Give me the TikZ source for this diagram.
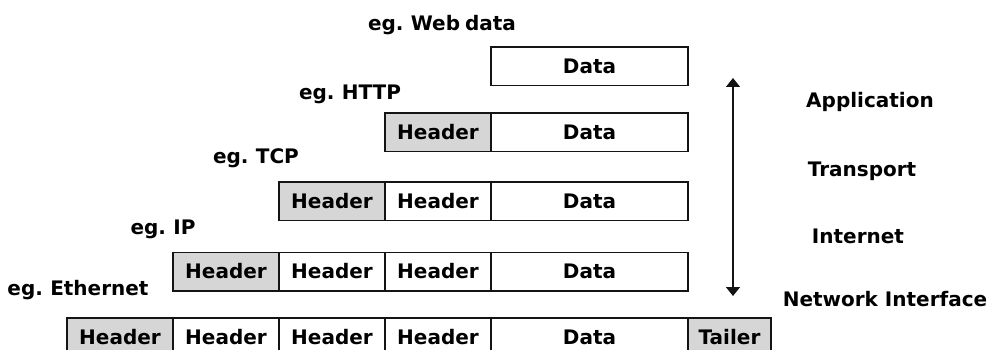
\documentclass[tikz,border=0pt]{standalone}
\usepackage{fontspec}
\setmainfont{DejaVu Sans}
\usetikzlibrary{arrows.meta}
\definecolor{cellgray}{RGB}{214,214,214}
\definecolor{edgeblack}{RGB}{20,20,20}
\newdimen\egspace
\begin{document}
\begin{tikzpicture}[x=1pt,y=-1pt,
  font=\fontsize{20}{23}\selectfont\bfseries,
  cell/.style={draw=edgeblack, line width=1.5pt, fill=white, inner sep=0pt,
               minimum height=38.5pt},
  hdr/.style={cell, minimum width=106pt},
  grayhdr/.style={hdr, fill=cellgray},
  datacell/.style={cell, minimum width=197pt},
  tailcell/.style={cell, fill=cellgray, minimum width=83pt},
  eglabel/.style={anchor=base, inner sep=0pt,
                  execute at begin node={\spaceskip=5pt\relax}},
  layer/.style={anchor=base, inner sep=0pt}]
  \useasboundingbox (0,0) rectangle (988,350);
  \clip (0,0) rectangle (988,350);

  % example protocol captions
  \node[eglabel] (egweb)  at (442,31)  {eg. Web data};
  \node[eglabel] (eghttp) at (350,100) {eg. HTTP};
  \node[eglabel] (egtcp)  at (256,164) {eg. TCP};
  \node[eglabel] (egip)   at (163,234) {eg. IP};
  \node[eglabel] (egeth)  at (78,295)  {eg. Ethernet};

  % application data
  \node[datacell] (d1) at (589.5,66.5) {Data};

  % HTTP
  \node[grayhdr]  (h2a) at (438,132.5) {Header};
  \node[datacell] (d2)  at (589.5,132.5) {Data};

  % TCP
  \node[grayhdr]  (h3a) at (332,201) {Header};
  \node[hdr]      (h3b) at (438,201) {Header};
  \node[datacell] (d3)  at (589.5,201) {Data};

  % IP
  \node[grayhdr]  (h4a) at (226,271.5) {Header};
  \node[hdr]      (h4b) at (332,271.5) {Header};
  \node[hdr]      (h4c) at (438,271.5) {Header};
  \node[datacell] (d4)  at (589.5,271.5) {Data};

  % Ethernet frame
  \node[grayhdr]  (h5a) at (120,337) {Header};
  \node[hdr]      (h5b) at (226,337) {Header};
  \node[hdr]      (h5c) at (332,337) {Header};
  \node[hdr]      (h5d) at (438,337) {Header};
  \node[datacell] (d5)  at (589.5,337) {Data};
  \node[tailcell] (t5)  at (729.5,337) {Tailer};

  % layer arrow
  \coordinate (atop) at (733,78);
  \coordinate (abot) at (733,296);
  \draw[edgeblack, line width=1.5pt,
        {Triangle[width=14pt,length=9pt]}-{Triangle[width=14pt,length=9pt]}]
        (atop) -- (abot);

  % layer names
  \node[layer] (lapp) at (870,108) {Application};
  \node[layer] (ltra) at (862,176) {Transport};
  \node[layer] (lint) at (858,243) {Internet};
  \node[layer] (lnet) at (885,306) {Network Interface};
\end{tikzpicture}
\end{document}
